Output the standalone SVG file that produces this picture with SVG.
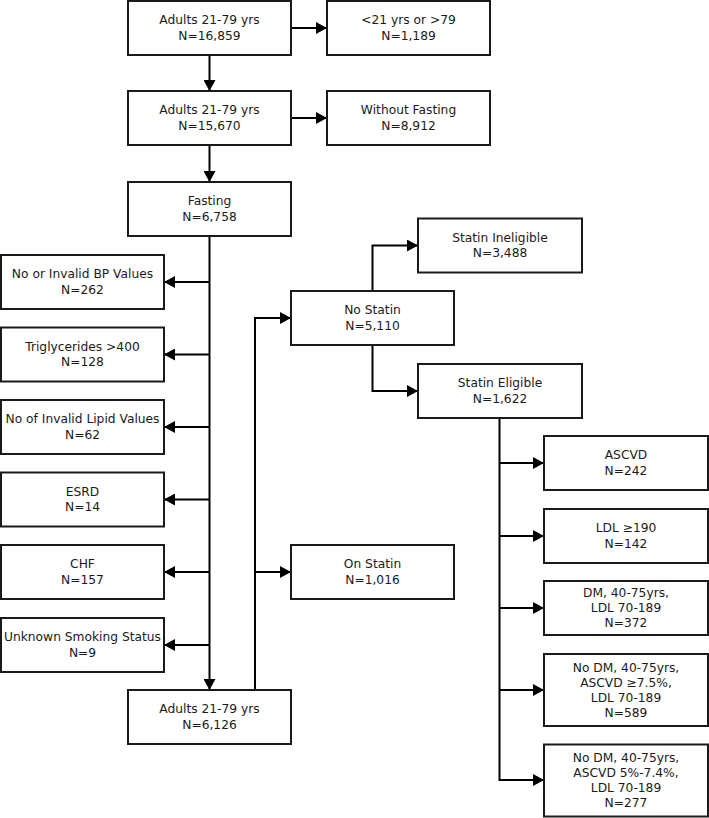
<svg xmlns="http://www.w3.org/2000/svg" width="709" height="818" viewBox="0 0 709 818">
<style>
rect.b{fill:#fff;stroke:#1a1a1a;stroke-width:2}
text{font-family:"DejaVu Sans",sans-serif;font-size:12.25px;fill:#1a1a1a;text-anchor:middle}
.c path{fill:none;stroke:#000;stroke-width:2}
</style>
<defs>
<marker id="ah" markerUnits="userSpaceOnUse" markerWidth="11" markerHeight="12" refX="11" refY="6" orient="auto">
<path d="M0,0 L11,6 L0,12 z" fill="#000"/>
</marker>
</defs>
<g class="c" id="connectors">
<path d="M209.5,55 V91" marker-end="url(#ah)"/>
<path d="M291,28 H327" marker-end="url(#ah)"/>
<path d="M209.5,145 V182" marker-end="url(#ah)"/>
<path d="M291,118 H327" marker-end="url(#ah)"/>
<path d="M209.5,236 V690" marker-end="url(#ah)"/>
<path d="M209.5,282 H164" marker-end="url(#ah)"/>
<path d="M209.5,354.5 H164" marker-end="url(#ah)"/>
<path d="M209.5,427 H164" marker-end="url(#ah)"/>
<path d="M209.5,499.5 H164" marker-end="url(#ah)"/>
<path d="M209.5,572 H164" marker-end="url(#ah)"/>
<path d="M209.5,645 H164" marker-end="url(#ah)"/>
<path d="M255,690 V318 H291" marker-end="url(#ah)"/>
<path d="M255,572 H291" marker-end="url(#ah)"/>
<path d="M372.5,291 V245.5 H418" marker-end="url(#ah)"/>
<path d="M372.5,345 V391 H418" marker-end="url(#ah)"/>
<path d="M499.5,418 V780 H544" marker-end="url(#ah)"/>
<path d="M499.5,463 H544" marker-end="url(#ah)"/>
<path d="M499.5,536 H544" marker-end="url(#ah)"/>
<path d="M499.5,608 H544" marker-end="url(#ah)"/>
<path d="M499.5,690 H544" marker-end="url(#ah)"/>
</g>
<g id="n1"><rect class="b" x="128" y="1" width="163" height="54"/><text x="209.5" y="24">Adults 21-79 yrs</text><text x="209.5" y="39.5">N=16,859</text></g>
<g id="n1x"><rect class="b" x="327" y="1" width="163" height="54"/><text x="408.5" y="24">&lt;21 yrs or &gt;79</text><text x="408.5" y="39.5">N=1,189</text></g>
<g id="n2"><rect class="b" x="128" y="91" width="163" height="54"/><text x="209.5" y="114">Adults 21-79 yrs</text><text x="209.5" y="129.5">N=15,670</text></g>
<g id="n2x"><rect class="b" x="327" y="91" width="163" height="54"/><text x="408.5" y="114">Without Fasting</text><text x="408.5" y="129.5">N=8,912</text></g>
<g id="n3"><rect class="b" x="128" y="182" width="163" height="54"/><text x="209.5" y="205">Fasting</text><text x="209.5" y="220.5">N=6,758</text></g>
<g id="e1"><rect class="b" x="1" y="255" width="163" height="54"/><text x="82.5" y="278">No or Invalid BP Values</text><text x="82.5" y="293.5">N=262</text></g>
<g id="e2"><rect class="b" x="1" y="327.5" width="163" height="54"/><text x="82.5" y="350.5">Triglycerides &gt;400</text><text x="82.5" y="366">N=128</text></g>
<g id="e3"><rect class="b" x="1" y="400" width="163" height="54"/><text x="82.5" y="423">No of Invalid Lipid Values</text><text x="82.5" y="438.5">N=62</text></g>
<g id="e4"><rect class="b" x="1" y="472.5" width="163" height="54"/><text x="82.5" y="495.5">ESRD</text><text x="82.5" y="511">N=14</text></g>
<g id="e5"><rect class="b" x="1" y="545" width="163" height="54"/><text x="82.5" y="568">CHF</text><text x="82.5" y="583.5">N=157</text></g>
<g id="e6"><rect class="b" x="1" y="618" width="163" height="54"/><text x="82.5" y="641">Unknown Smoking Status</text><text x="82.5" y="656.5">N=9</text></g>
<g id="n4"><rect class="b" x="128" y="690" width="163" height="54"/><text x="209.5" y="713">Adults 21-79 yrs</text><text x="209.5" y="728.5">N=6,126</text></g>
<g id="ns"><rect class="b" x="291" y="291" width="163" height="54"/><text x="372.5" y="314">No Statin</text><text x="372.5" y="329.5">N=5,110</text></g>
<g id="os"><rect class="b" x="291" y="545" width="163" height="54"/><text x="372.5" y="568">On Statin</text><text x="372.5" y="583.5">N=1,016</text></g>
<g id="si"><rect class="b" x="418" y="218.5" width="164" height="54"/><text x="500" y="241.5">Statin Ineligible</text><text x="500" y="257">N=3,488</text></g>
<g id="se"><rect class="b" x="418" y="364" width="164" height="54"/><text x="500" y="387">Statin Eligible</text><text x="500" y="402.5">N=1,622</text></g>
<g id="r1"><rect class="b" x="544" y="436" width="164" height="54"/><text x="626" y="459">ASCVD</text><text x="626" y="474.5">N=242</text></g>
<g id="r2"><rect class="b" x="544" y="509" width="164" height="54"/><text x="626" y="532">LDL ≥190</text><text x="626" y="547.5">N=142</text></g>
<g id="r3"><rect class="b" x="544" y="581" width="164" height="54"/><text x="626" y="596.5">DM, 40-75yrs,</text><text x="626" y="611.5">LDL 70-189</text><text x="626" y="626.5">N=372</text></g>
<g id="r4"><rect class="b" x="544" y="654" width="164" height="72"/><text x="626" y="671.5">No DM, 40-75yrs,</text><text x="626" y="686.5">ASCVD ≥7.5%,</text><text x="626" y="701.5">LDL 70-189</text><text x="626" y="716.5">N=589</text></g>
<g id="r5"><rect class="b" x="544" y="744.5" width="164" height="72"/><text x="626" y="762">No DM, 40-75yrs,</text><text x="626" y="777">ASCVD 5%-7.4%,</text><text x="626" y="792">LDL 70-189</text><text x="626" y="807">N=277</text></g>
</svg>
